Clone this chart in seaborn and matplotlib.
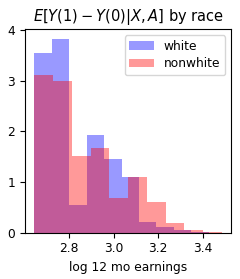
import numpy as np
import pandas as pd
import matplotlib
matplotlib.use("Agg")
import matplotlib.pyplot as plt
import seaborn as sns

# Bin edges (log 12 mo earnings) and density heights
white_start = 2.6445
white_width = 0.0782
white_heights = [3.55, 3.83, 0.55, 1.93, 1.46, 1.10, 0.21, 0.11, 0.05, 0.02]

nonwhite_start = 2.6445
nonwhite_width = 0.0840
nonwhite_heights = [3.12, 2.99, 1.52, 1.67, 0.69, 1.10, 0.60, 0.19, 0.05, 0.02]

labels = ["white", "nonwhite"]
colors = ["blue", "red"]

plt.rcParams["font.size"] = 8.8

fig = plt.figure(figsize=(2.40, 2.79), dpi=100)
ax = fig.add_axes([0.104, 0.166, 0.859, 0.730])

for start, width, heights, lab, col in [
    (white_start, white_width, white_heights, labels[0], colors[0]),
    (nonwhite_start, nonwhite_width, nonwhite_heights, labels[1], colors[1]),
]:
    n = len(heights)
    edges = [float(start + width * i) for i in range(n + 1)]
    centers = [(edges[i] + edges[i + 1]) / 2 for i in range(n)]
    df = pd.DataFrame({"x": centers, "w": heights})
    sns.histplot(data=df, x="x", weights="w", bins=edges, stat="count",
                 color=col, alpha=0.4, linewidth=0,
                 label=lab, ax=ax)

ax.set_ylabel("")
ax.set_xlabel("log 12 mo earnings")
ax.set_title(r"$E[Y(1) - Y(0)|X, A]$ by race")
ax.set_xticks([2.8, 3.0, 3.2, 3.4])
ax.set_yticks([0, 1, 2, 3, 4])
ax.legend(loc="upper right", labelspacing=0.35)

fig.savefig("out.png", dpi=100)
